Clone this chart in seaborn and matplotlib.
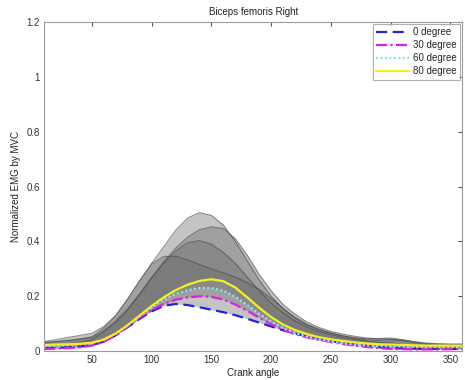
import numpy as np
import pandas as pd
import seaborn as sns
import matplotlib
matplotlib.use("Agg")
import matplotlib.pyplot as plt

angles = list(range(10, 361, 10))

# mean normalized EMG for each knee angle
mean_0 = [0.010, 0.012, 0.014, 0.017, 0.022, 0.035, 0.058, 0.088, 0.118, 0.145, 0.165, 0.172,
          0.168, 0.160, 0.151, 0.142, 0.131, 0.118, 0.104, 0.090, 0.076, 0.064, 0.054, 0.045,
          0.037, 0.030, 0.024, 0.019, 0.015, 0.012, 0.010, 0.009, 0.008, 0.008, 0.008, 0.008]
mean_30 = [0.008, 0.009, 0.011, 0.014, 0.020, 0.034, 0.058, 0.090, 0.122, 0.150, 0.172, 0.187,
           0.196, 0.200, 0.198, 0.188, 0.170, 0.147, 0.122, 0.098, 0.078, 0.062, 0.050, 0.041,
           0.033, 0.026, 0.020, 0.015, 0.011, 0.008, 0.007, 0.006, 0.006, 0.006, 0.007, 0.008]
mean_60 = [0.018, 0.020, 0.022, 0.025, 0.030, 0.043, 0.065, 0.095, 0.128, 0.160, 0.188, 0.208,
           0.222, 0.230, 0.230, 0.220, 0.198, 0.168, 0.136, 0.108, 0.085, 0.067, 0.053, 0.043,
           0.035, 0.029, 0.024, 0.021, 0.019, 0.018, 0.017, 0.016, 0.015, 0.015, 0.015, 0.015]
mean_80 = [0.022, 0.024, 0.025, 0.027, 0.030, 0.042, 0.064, 0.095, 0.130, 0.165, 0.196, 0.222,
           0.242, 0.256, 0.262, 0.255, 0.232, 0.196, 0.158, 0.124, 0.097, 0.077, 0.062, 0.051,
           0.043, 0.037, 0.032, 0.028, 0.025, 0.024, 0.023, 0.021, 0.020, 0.020, 0.020, 0.020]

# upper edge of the shaded bands (mean + SD)
upper_0 = [0.035, 0.042, 0.050, 0.057, 0.065, 0.090, 0.130, 0.190, 0.258, 0.318, 0.345, 0.346,
           0.332, 0.316, 0.300, 0.285, 0.270, 0.250, 0.225, 0.192, 0.156, 0.124, 0.098, 0.080,
           0.066, 0.055, 0.047, 0.041, 0.040, 0.042, 0.038, 0.030, 0.024, 0.021, 0.020, 0.020]
upper_30 = [0.020, 0.023, 0.027, 0.033, 0.042, 0.070, 0.105, 0.150, 0.205, 0.265, 0.320, 0.365,
            0.395, 0.403, 0.390, 0.360, 0.320, 0.270, 0.220, 0.175, 0.140, 0.110, 0.088, 0.072,
            0.060, 0.050, 0.042, 0.036, 0.032, 0.030, 0.026, 0.021, 0.017, 0.016, 0.016, 0.016]
upper_60 = [0.030, 0.034, 0.038, 0.044, 0.052, 0.085, 0.130, 0.190, 0.255, 0.320, 0.380, 0.440,
            0.485, 0.505, 0.495, 0.460, 0.400, 0.330, 0.260, 0.200, 0.155, 0.120, 0.095, 0.078,
            0.066, 0.056, 0.049, 0.045, 0.046, 0.048, 0.042, 0.034, 0.028, 0.025, 0.024, 0.024]
upper_80 = [0.032, 0.035, 0.039, 0.044, 0.050, 0.075, 0.110, 0.155, 0.210, 0.270, 0.325, 0.375,
            0.415, 0.443, 0.453, 0.447, 0.410, 0.350, 0.280, 0.220, 0.170, 0.135, 0.106, 0.086,
            0.072, 0.062, 0.054, 0.048, 0.045, 0.044, 0.040, 0.034, 0.029, 0.027, 0.026, 0.026]

labels = ["0 degree", "30 degree", "60 degree", "80 degree"]
means = [mean_0, mean_30, mean_60, mean_80]
uppers = [upper_0, upper_30, upper_60, upper_80]
colors = ["#2323d8", "#e020e0", "#8fe3ef", "#f4f020"]
styles = [(0, (5, 2.5)), (0, (5, 1.5, 1, 1.5)), (0, (1, 1)), "-"]

sns.set_style("white")
plt.rcParams["font.family"] = ["Liberation Sans", "DejaVu Sans"]

fig = plt.figure(figsize=(4.65, 3.8), dpi=100)
ax = fig.add_axes([0.095, 0.076, 0.899, 0.866])

for m, u in zip(means, uppers):
    ax.fill_between(angles, m, u, color="#666666", alpha=0.38, linewidth=0)
    sns.lineplot(x=angles, y=u, ax=ax, color="#444444", linewidth=0.8, alpha=0.6)

for m, lab, c, ls in zip(means, labels, colors, styles):
    sns.lineplot(x=angles, y=m, ax=ax, color=c, linestyle=ls, linewidth=1.6, label=lab)

ax.set_xlim(10, 360)
ax.set_ylim(0, 1.2)
ax.set_xticks([50, 100, 150, 200, 250, 300, 350])
ax.set_yticks([0, 0.2, 0.4, 0.6, 0.8, 1.0, 1.2])
ax.set_yticklabels(["0", "0.2", "0.4", "0.6", "0.8", "1", "1.2"])
ax.tick_params(direction="in", length=3, labelsize=7, colors="#555555", top=True, right=True,
               labelcolor="#333333", pad=3)
for s in ax.spines.values():
    s.set_color("#9a9a9a")
    s.set_linewidth(0.8)

ax.set_title("Biceps femoris Right", fontsize=7, color="#222222", pad=5)
ax.set_xlabel("Crank angle", fontsize=7, color="#222222", labelpad=2)
ax.set_ylabel("Normalized EMG by MVC", fontsize=7, color="#222222", labelpad=4)

leg = ax.legend(loc="upper right", fontsize=7, frameon=True, fancybox=False, handlelength=3.4,
                handletextpad=0.4, borderpad=0.35, labelspacing=0.3, borderaxespad=0.2)
leg.get_frame().set_edgecolor("#9a9a9a")
leg.get_frame().set_linewidth(0.8)

fig.savefig("out.png", dpi=100)
